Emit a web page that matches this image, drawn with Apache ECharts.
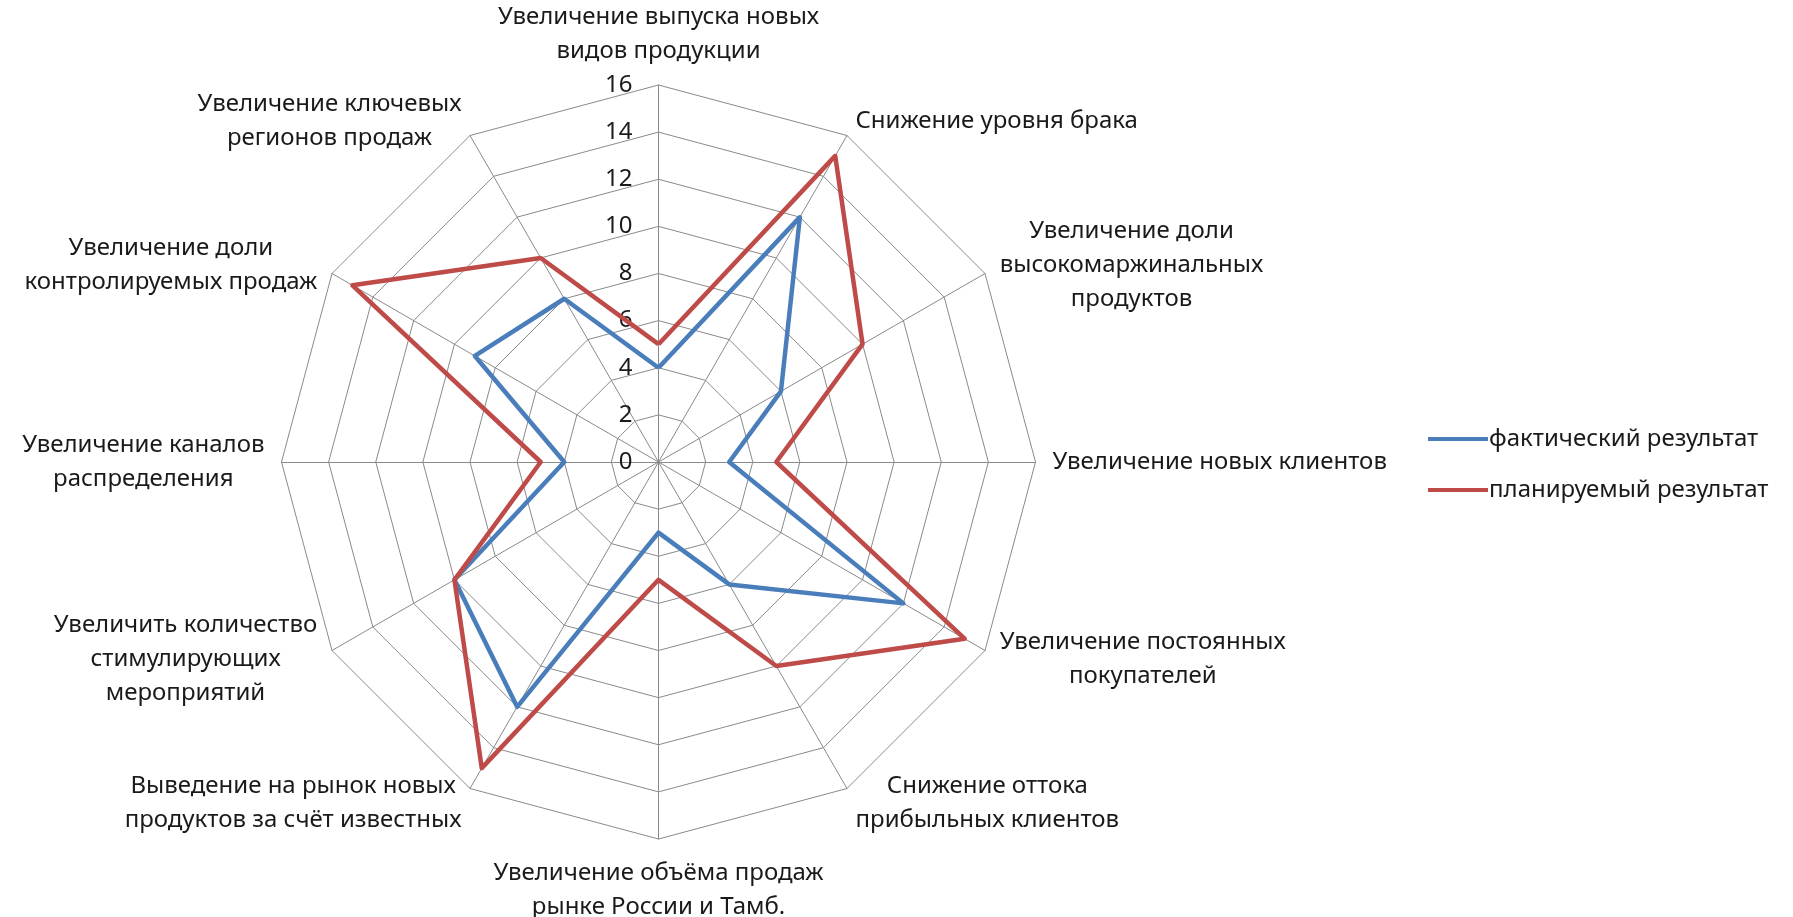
<!DOCTYPE html>
<html lang="ru">
<head>
<meta charset="utf-8">
<title>Радар результатов</title>
<script src="https://cdn.jsdelivr.net/npm/echarts@6/dist/echarts.min.js"></script>
<style>
  html, body { margin: 0; padding: 0; background: #ffffff; }
  #chart { width: 1793px; height: 917px; }
</style>
</head>
<body>
<div id="chart"></div>
<script>
// Направления по часовой стрелке, начиная с верхней оси
const categories = [
  'Увеличение выпуска новых\nвидов продукции',
  'Снижение уровня брака',
  'Увеличение доли\nвысокомаржинальных\nпродуктов',
  'Увеличение новых клиентов',
  'Увеличение постоянных\nпокупателей',
  'Снижение оттока\nприбыльных клиентов',
  'Увеличение объёма продаж\nрынке России и Тамб.',
  'Выведение на рынок новых\nпродуктов за счёт известных',
  'Увеличить количество\nстимулирующих\nмероприятий',
  'Увеличение каналов\nраспределения',
  'Увеличение доли\nконтролируемых продаж',
  'Увеличение ключевых\nрегионов продаж'
];

const seriesNames = ['фактический результат', 'планируемый результат'];

const actualValues  = [4, 12, 6, 3, 12, 6, 3, 12, 10, 4, 9, 8];
const plannedValues = [5, 15, 10, 5, 15, 10, 5, 15, 10, 5, 15, 10];

const axisMax = 16;
const axisStep = 2;

// Радар в ECharts откладывает оси против часовой стрелки,
// поэтому порядок (кроме первой оси) разворачиваем.
const order = categories.map((_, i) => (i === 0 ? 0 : categories.length - i));
const reorder = arr => order.map(i => arr[i]);

const FONT = "'Noto Sans', 'Open Sans', sans-serif";
const FONT_SIZE = 24;
const LINE_HEIGHT = 34;
const TEXT_COLOR = '#1a1a1a';
const GRID_COLOR = '#8a8a8a';
const BLUE = '#4a7ebb';
const RED = '#be4b48';

const indicators = reorder(categories).map((name, i) => {
  const ind = { name: name, min: 0, max: axisMax };
  if (i === 0) {
    ind.axisLabel = {
      show: true,
      fontFamily: FONT,
      fontSize: FONT_SIZE,
      color: TEXT_COLOR,
      margin: 26,
      showMinLabel: true,
      showMaxLabel: true
    };
  }
  return ind;
});

const chart = echarts.init(document.getElementById('chart'), null, { renderer: 'canvas' });

chart.setOption({
  backgroundColor: '#ffffff',
  animation: false,
  textStyle: { fontFamily: FONT },
  legend: {
    orient: 'vertical',
    left: 1423,
    top: 422,
    itemWidth: 60,
    itemHeight: 14,
    itemGap: 27,
    icon: 'path://M0,5 L60,5 L60,9 L0,9 Z',
    textStyle: { fontFamily: FONT, fontSize: FONT_SIZE, color: TEXT_COLOR, padding: [0, 0, 0, -4] },
    data: seriesNames
  },
  radar: {
    center: [658.5, 462],
    radius: 377,
    startAngle: 90,
    shape: 'polygon',
    splitNumber: axisMax / axisStep,
    nameGap: 17,
    axisName: {
      color: TEXT_COLOR,
      fontFamily: FONT,
      fontSize: FONT_SIZE,
      lineHeight: LINE_HEIGHT,
      formatter: function (value) {
        return value.split('\n').map(l => '{c|' + l + '}').join('\n');
      },
      rich: {
        c: {
          align: 'center',
          color: TEXT_COLOR,
          fontFamily: FONT,
          fontSize: FONT_SIZE,
          lineHeight: LINE_HEIGHT
        }
      }
    },
    splitArea: { show: false },
    splitLine: { lineStyle: { color: GRID_COLOR, width: 1 } },
    axisLine: { lineStyle: { color: GRID_COLOR, width: 1 } },
    axisTick: { show: false },
    axisLabel: { show: false },
    indicator: indicators
  },
  series: [{
    type: 'radar',
    symbol: 'none',
    data: [
      {
        name: seriesNames[0],
        value: reorder(actualValues),
        lineStyle: { color: BLUE, width: 4.5 },
        itemStyle: { color: BLUE }
      },
      {
        name: seriesNames[1],
        value: reorder(plannedValues),
        lineStyle: { color: RED, width: 4.5 },
        itemStyle: { color: RED }
      }
    ]
  }]
});
</script>
</body>
</html>
